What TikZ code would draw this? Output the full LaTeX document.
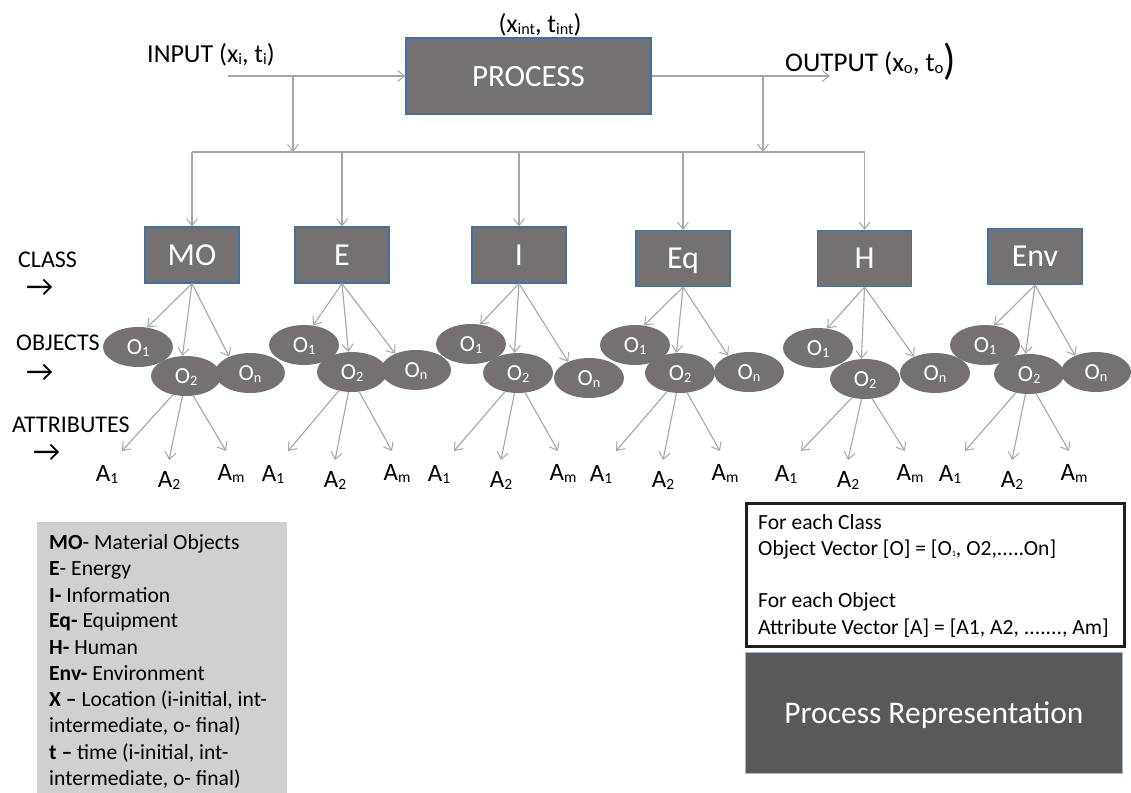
\documentclass[tikz,border=0pt]{standalone}
\usepackage{fontspec}
\setmainfont{Carlito}
\newfontfamily\symfont{DejaVu Sans}
\usetikzlibrary{arrows.meta,shapes.geometric}
\definecolor{clsfill}{HTML}{767171}
\definecolor{clsline}{HTML}{41719C}
\definecolor{lngray}{HTML}{A6A6A6}
\definecolor{legfill}{HTML}{D0D0D0}
\definecolor{darkfill}{HTML}{595959}
\newcommand\lo[1]{\raisebox{-0.08em}{\scalebox{0.62}{#1}}}
\newcommand\fsz[1]{\fontsize{#1}{#1}\selectfont}
\begin{document}
\begin{tikzpicture}[x=1pt,y=-1pt,
  arr/.style={draw=lngray, line width=1.1pt, -{Straight Barb[length=7pt,width=11pt,line width=1pt]}},
  plainln/.style={draw=lngray, line width=1.1pt},
  clsbox/.style={rectangle, fill=clsfill, draw=clsline, line width=1.2pt, minimum width=94pt, minimum height=56pt, text=white, font=\fsz{32pt}, inner sep=0pt, text height=20.6pt, text depth=0pt},
  obj/.style={ellipse, fill=clsfill, minimum width=70pt, minimum height=40pt, inner sep=0pt, text=white, font=\fsz{23pt}, text height=14.8pt, text depth=0pt},
  attr/.style={font=\fsz{25pt}, inner sep=0pt},
  side/.style={font=\fsz{24pt}, anchor=west, inner sep=0pt},
  sidearr/.style={font=\fsz{30pt}, anchor=west, inner sep=0pt},
  legtxt/.style={font=\fsz{21.6pt}, anchor=base west, inner sep=0pt},
  big/.style={font=\fsz{26pt}, inner sep=0pt},
]
\useasboundingbox (0,0) rectangle (1131,792);
\fill[white] (0,0) rectangle (1131,792);

% process
\node[clsbox, minimum width=245pt, minimum height=76pt, font=\fsz{31pt}, text height=20pt] (P) at (528.5,76) {PROCESS};
\node[big] (Pxt) at (540,25) {(x\lo{int}, t\lo{int})};
\node[big, anchor=west] (IN) at (147,55) {INPUT (x\lo{i}, t\lo{i})};
\node[big, font=\fsz{27pt}, anchor=west] (OUT) at (785,62) {OUTPUT (x\lo{o}, t\lo{o}\raisebox{-0.12em}{\scalebox{1.5}[1.6]{)}}};

\coordinate (inS) at (228,76);
\coordinate (inD) at (293,76);
\coordinate (outD) at (763,76);
\coordinate (outE) at (830,76);
\coordinate (busL) at (192,152);
\coordinate (busR) at (864.5,152);

\draw[arr] (inS) -- (P.west);
\draw[arr] (P.east) -- (outE);
\draw[arr] (inD) -- (inD |- busL);
\draw[arr] (outD) -- (outD |- busL);
\draw[plainln] (busL) -- (busR);

% classes
\node[clsbox] (MO) at (192,255) {MO};
\node[clsbox] (E) at (342,255) {E};
\node[clsbox] (I) at (519,255) {I};
\node[clsbox] (Eq) at (683,258.5) {Eq};
\node[clsbox] (H) at (864.5,258.5) {H};
\node[clsbox] (Env) at (1035,256.5) {Env};

\foreach \c in {MO,E,I,Eq,H} \draw[arr] (\c.north |- busL) -- (\c.north);

% objects
\foreach \c/\ax/\ay/\bx/\by/\nx/\ny in {MO/138/347/186/376/250/373, E/304/345/352/372/416/370, I/471/344/518/373/589/378, Eq/635/345/680/373/749/372, H/818/348/865/379/935/373, Env/985/345/1029/374/1096/372} {
  \node[obj] (\c 1) at (\ax,\ay) {O\lo{1}};
  \node[obj] (\c 2) at (\bx,\by) {O\lo{2}};
  \node[obj] (\c n) at (\nx,\ny) {O\lo{n}};
  \draw[arr] (\c.south) -- (\c 1.65);
  \draw[arr] (\c.south) -- (\c 2.100);
  \draw[arr] (\c.south) -- (\c n.142);
  \coordinate (\c t1) at (\bx-64,451);
  \coordinate (\c t2) at (\bx-17,460);
  \coordinate (\c tm) at (\bx+40,451);
  \node[attr] (\c a1) at (\bx-79,474) {A\lo{1}};
  \node[attr] (\c a2) at (\bx-17,480) {A\lo{2}};
  \node[attr] (\c am) at (\bx+45,473) {A\lo{m}};
  \draw[arr] (\c 2.-125) -- (\c t1);
  \draw[arr] (\c 2.-100) -- (\c t2);
  \draw[arr] (\c 2.-70) -- (\c tm);
}

% side labels
\node[side] (lc) at (18,260) {CLASS};
\node[sidearr] (lca) at (26,288) {→};
\node[side] (lo) at (16,343) {OBJECTS};
\node[sidearr] (loa) at (26,373) {→};
\node[side] (la) at (12,425) {ATTRIBUTES};
\node[sidearr] (laa) at (33,453) {→};

% legend
\node[fill=legfill, inner sep=0pt, minimum width=250pt, minimum height=272pt, anchor=north west] (legbox) at (37,522) {};
\node[legtxt] (g1) at (49,549) {\textbf{MO}- Material Objects};
\node[legtxt] (g2) at (49,575) {\textbf{E}- Energy};
\node[legtxt] (g3) at (49,602) {\textbf{I-} Information};
\node[legtxt] (g4) at (49,627) {\textbf{Eq-} Equipment};
\node[legtxt] (g5) at (49,654) {\textbf{H-} Human};
\node[legtxt] (g6) at (49,680) {\textbf{Env-} Environment};
\node[legtxt] (g7) at (49,706) {\textbf{X –} Location (i-initial, int-};
\node[legtxt] (g8) at (49,732) {intermediate, o- final)};
\node[legtxt] (g9) at (49,759) {\textbf{t –} time (i-initial, int-};
\node[legtxt] (g10) at (49,785) {intermediate, o- final)};

% vector box
\node[draw=black!88, line width=3pt, inner sep=0pt, minimum width=378pt, minimum height=143pt, anchor=north west] (vec) at (745,502) {};
\node[legtxt] (v1) at (758,529) {For each Class};
\node[legtxt] (v2) at (758,555) {Object Vector [O] = [O\lo{\scalebox{0.6}{1}}, O2,.....On]};
\node[legtxt] (v3) at (758,607) {For each Object};
\node[legtxt] (v4) at (758,634) {Attribute Vector [A] = [A1, A2, ......., Am]};

% representation
\node[fill=darkfill, draw=clsline!50, line width=0.8pt, minimum width=377pt, minimum height=121pt, anchor=north west, text=white, font=\fsz{31.5pt}, inner sep=0pt, text height=20.3pt, text depth=0pt] (PR) at (745,652) {Process Representation};
\end{tikzpicture}
\end{document}
